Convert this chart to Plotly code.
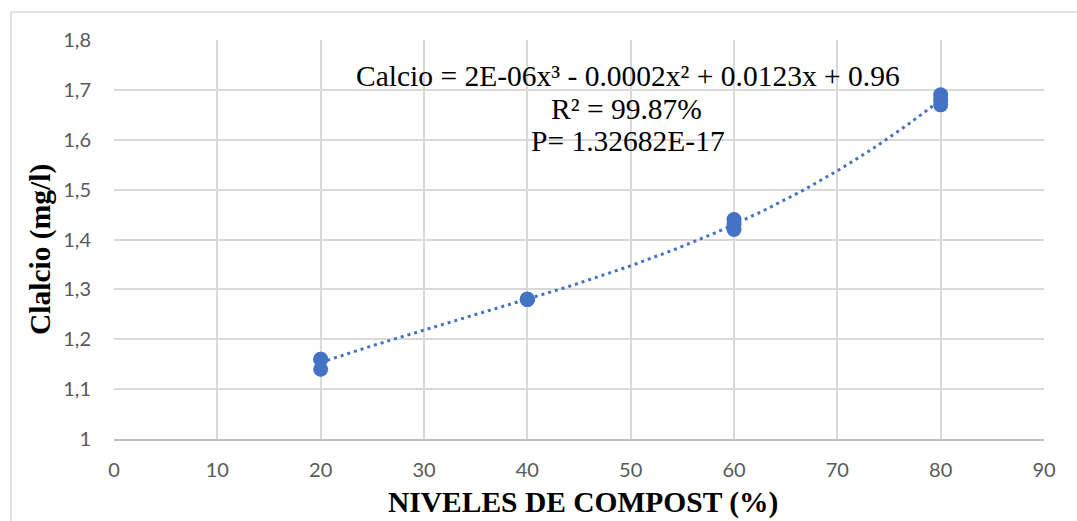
import numpy as np
import plotly.graph_objects as go

# Compost levels (%) and measured calcium (mg/l), three replicates per level
niveles = [20, 20, 20, 40, 40, 40, 60, 60, 60, 80, 80, 80]
calcio = [1.16, 1.16, 1.14, 1.28, 1.28, 1.28, 1.44, 1.43, 1.42, 1.69, 1.68, 1.67]

x_ticks = [0, 10, 20, 30, 40, 50, 60, 70, 80, 90]
y_ticks = [1.0, 1.1, 1.2, 1.3, 1.4, 1.5, 1.6, 1.7, 1.8]

eq_text = "Calcio = 2E-06x³ - 0.0002x² + 0.0123x + 0.96"
r2_text = "R² = 99.87%"
p_text = "P= 1.32682E-17"

BLUE = "#4472C4"
GRID = "#d9d9d9"
TICK = "#595959"

# Cubic trend line fitted to the observations
coef = np.polyfit(niveles, calcio, 3)
xt = np.linspace(min(niveles), max(niveles), 200)
yt = np.polyval(coef, xt)

fig = go.Figure()
fig.add_trace(go.Scatter(
    x=xt, y=yt, mode="lines",
    line=dict(color=BLUE, width=3, dash="3px,4px"),
    hoverinfo="skip", showlegend=False,
))
fig.add_trace(go.Scatter(
    x=niveles, y=calcio, mode="markers",
    marker=dict(color=BLUE, size=15),
    showlegend=False,
))

W, H = 1077, 521
L, R, T, B = 114, 33, 40, 82
pw, ph = W - L - R, H - T - B


def px(xp):
    return (xp - L) / pw


def py(yp):
    return (H - B - yp) / ph


serif = "Liberation Serif"
FS = 29.5
annots = [
    dict(text=eq_text, x=px(628), y=py(76)),
    dict(text=r2_text, x=px(626), y=py(109)),
    dict(text=p_text, x=px(628), y=py(141)),
]
annotations = []
for a in annots:
    annotations.append(dict(
        text=a["text"], x=a["x"], y=a["y"], xref="paper", yref="paper",
        xanchor="center", yanchor="middle", showarrow=False,
        font=dict(family=serif, size=FS, color="black"),
    ))
# Axis titles
annotations.append(dict(
    text="<b>NIVELES DE COMPOST (%)</b>", x=px(583), y=py(502),
    xref="paper", yref="paper", xanchor="center", yanchor="middle",
    showarrow=False, font=dict(family=serif, size=FS, color="black"),
))
annotations.append(dict(
    text="<b>Clalcio (mg/l)</b>", x=px(40), y=py(250),
    xref="paper", yref="paper", xanchor="center", yanchor="middle",
    textangle=-90, showarrow=False,
    font=dict(family=serif, size=FS, color="black"),
))

shapes = [
    # chart area outline (top and left edges)
    dict(type="line", xref="paper", yref="paper",
         x0=px(11), x1=px(1090), y0=py(12), y1=py(12),
         line=dict(color=GRID, width=1.5)),
    dict(type="line", xref="paper", yref="paper",
         x0=px(11), x1=px(11), y0=py(12), y1=py(540),
         line=dict(color=GRID, width=1.5)),
]

fig.update_layout(
    width=W, height=H,
    margin=dict(l=L, r=R, t=T, b=B),
    paper_bgcolor="white", plot_bgcolor="white",
    separators=",.",
    annotations=annotations,
    shapes=shapes,
    xaxis=dict(
        range=[0, 90], tickvals=x_ticks, showgrid=True, gridcolor=GRID,
        gridwidth=1.5, zeroline=False, showline=True, linecolor="#bfbfbf",
        linewidth=1.5, mirror=False, ticks="",
        tickfont=dict(family="Lato", size=20, color=TICK),
        ticklabelstandoff=12,
    ),
    yaxis=dict(
        range=[1.0, 1.8], tickvals=y_ticks, showgrid=True, gridcolor=GRID,
        gridwidth=1.5, zeroline=False, showline=False, ticks="",
        tickfont=dict(family="Lato", size=20, color=TICK),
        ticklabelstandoff=22,
    ),
)

fig.write_html("out.html")
